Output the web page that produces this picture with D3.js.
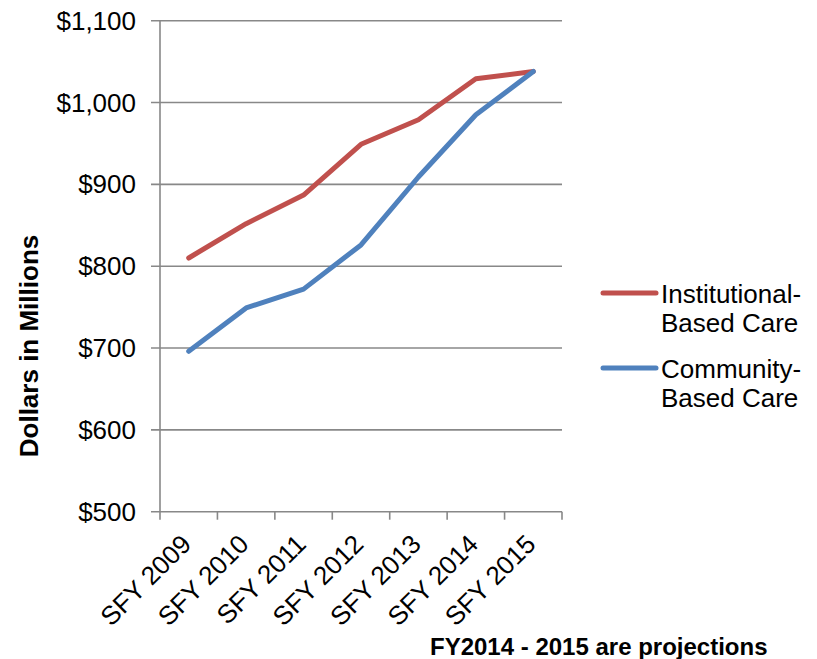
<!DOCTYPE html>
<html>
<head>
<meta charset="utf-8">
<script src="https://cdn.jsdelivr.net/npm/d3@7"></script>
<style>
  body { margin: 0; background: #fff; }
  svg { display: block; font-family: "Liberation Sans", Arial, sans-serif; }
</style>
</head>
<body>
<svg id="chart" width="817" height="659"></svg>
<script>
// data
const years = ["SFY 2009", "SFY 2010", "SFY 2011", "SFY 2012", "SFY 2013", "SFY 2014", "SFY 2015"];
const institutional = [810, 852, 887, 949, 979, 1029, 1038];
const community = [696, 749, 772, 826, 909, 985, 1038];
const yTicks = [500, 600, 700, 800, 900, 1000, 1100];
const seriesNames = [["Institutional-", "Based Care"], ["Community-", "Based Care"]];
const seriesColors = ["#C0504D", "#4F81BD"];

const svg = d3.select("#chart");
const plotLeft = 160, plotRight = 562, plotTop = 20.7, plotBottom = 511.7;
const gridColor = "#888888";

const x = d3.scaleBand().domain(years).range([plotLeft, plotRight]).padding(0);
const y = d3.scaleLinear().domain([500, 1100]).range([plotBottom, plotTop]);
const cx = (d) => x(d) + x.bandwidth() / 2;

// horizontal gridlines + left ticks
svg.append("g")
  .selectAll("line")
  .data(yTicks)
  .join("line")
  .attr("x1", plotLeft - 9)
  .attr("x2", plotRight)
  .attr("y1", (d) => y(d))
  .attr("y2", (d) => y(d))
  .attr("stroke", gridColor)
  .attr("stroke-width", 1.6);

// y tick labels
svg.append("g")
  .selectAll("text")
  .data(yTicks)
  .join("text")
  .attr("x", plotLeft - 24)
  .attr("y", (d) => y(d))
  .attr("dy", "0.35em")
  .attr("text-anchor", "end")
  .attr("font-size", 26)
  .attr("fill", "#000")
  .text((d) => "$" + d3.format(",")(d));

// vertical axis line
svg.append("line")
  .attr("x1", plotLeft).attr("x2", plotLeft)
  .attr("y1", plotTop).attr("y2", plotBottom)
  .attr("stroke", gridColor)
  .attr("stroke-width", 1.6);

// bottom tick marks at category boundaries
const bounds = years.map((d) => x(d)).concat([plotRight]);
svg.append("g")
  .selectAll("line")
  .data(bounds)
  .join("line")
  .attr("x1", (d) => d).attr("x2", (d) => d)
  .attr("y1", plotBottom).attr("y2", plotBottom + 8)
  .attr("stroke", gridColor)
  .attr("stroke-width", 1.6);

// x labels, rotated
svg.append("g")
  .selectAll("text")
  .data(years)
  .join("text")
  .attr("transform", (d) => `translate(${cx(d) + 4},${plotBottom + 34}) rotate(-45)`)
  .attr("text-anchor", "end")
  .attr("font-size", 26)
  .attr("fill", "#000")
  .text((d) => d);

// lines
const line = d3.line().x((d, i) => cx(years[i])).y((d) => y(d));
[institutional, community].forEach((vals, i) => {
  svg.append("path")
    .datum(vals)
    .attr("d", line)
    .attr("fill", "none")
    .attr("stroke", seriesColors[i])
    .attr("stroke-width", 5)
    .attr("stroke-linejoin", "round")
    .attr("stroke-linecap", "round");
});

// y axis title
svg.append("text")
  .attr("transform", "translate(38,346) rotate(-90)")
  .attr("text-anchor", "middle")
  .attr("font-size", 26)
  .attr("font-weight", "bold")
  .text("Dollars in Millions");

// legend
const legend = svg.append("g");
seriesNames.forEach((lines, i) => {
  const ly = 293 + i * 75;
  legend.append("line")
    .attr("x1", 603).attr("x2", 656)
    .attr("y1", ly).attr("y2", ly)
    .attr("stroke", seriesColors[i])
    .attr("stroke-width", 5)
    .attr("stroke-linecap", "round");
  const t = legend.append("text")
    .attr("x", 661)
    .attr("y", ly + 10)
    .attr("font-size", 26);
  lines.forEach((s, j) => {
    t.append("tspan").attr("x", 661).attr("dy", j === 0 ? 0 : 29).text(s);
  });
});

// footnote
svg.append("text")
  .attr("x", 430)
  .attr("y", 655)
  .attr("font-size", 24)
  .attr("font-weight", "bold")
  .text("FY2014 - 2015 are projections");
</script>
</body>
</html>
